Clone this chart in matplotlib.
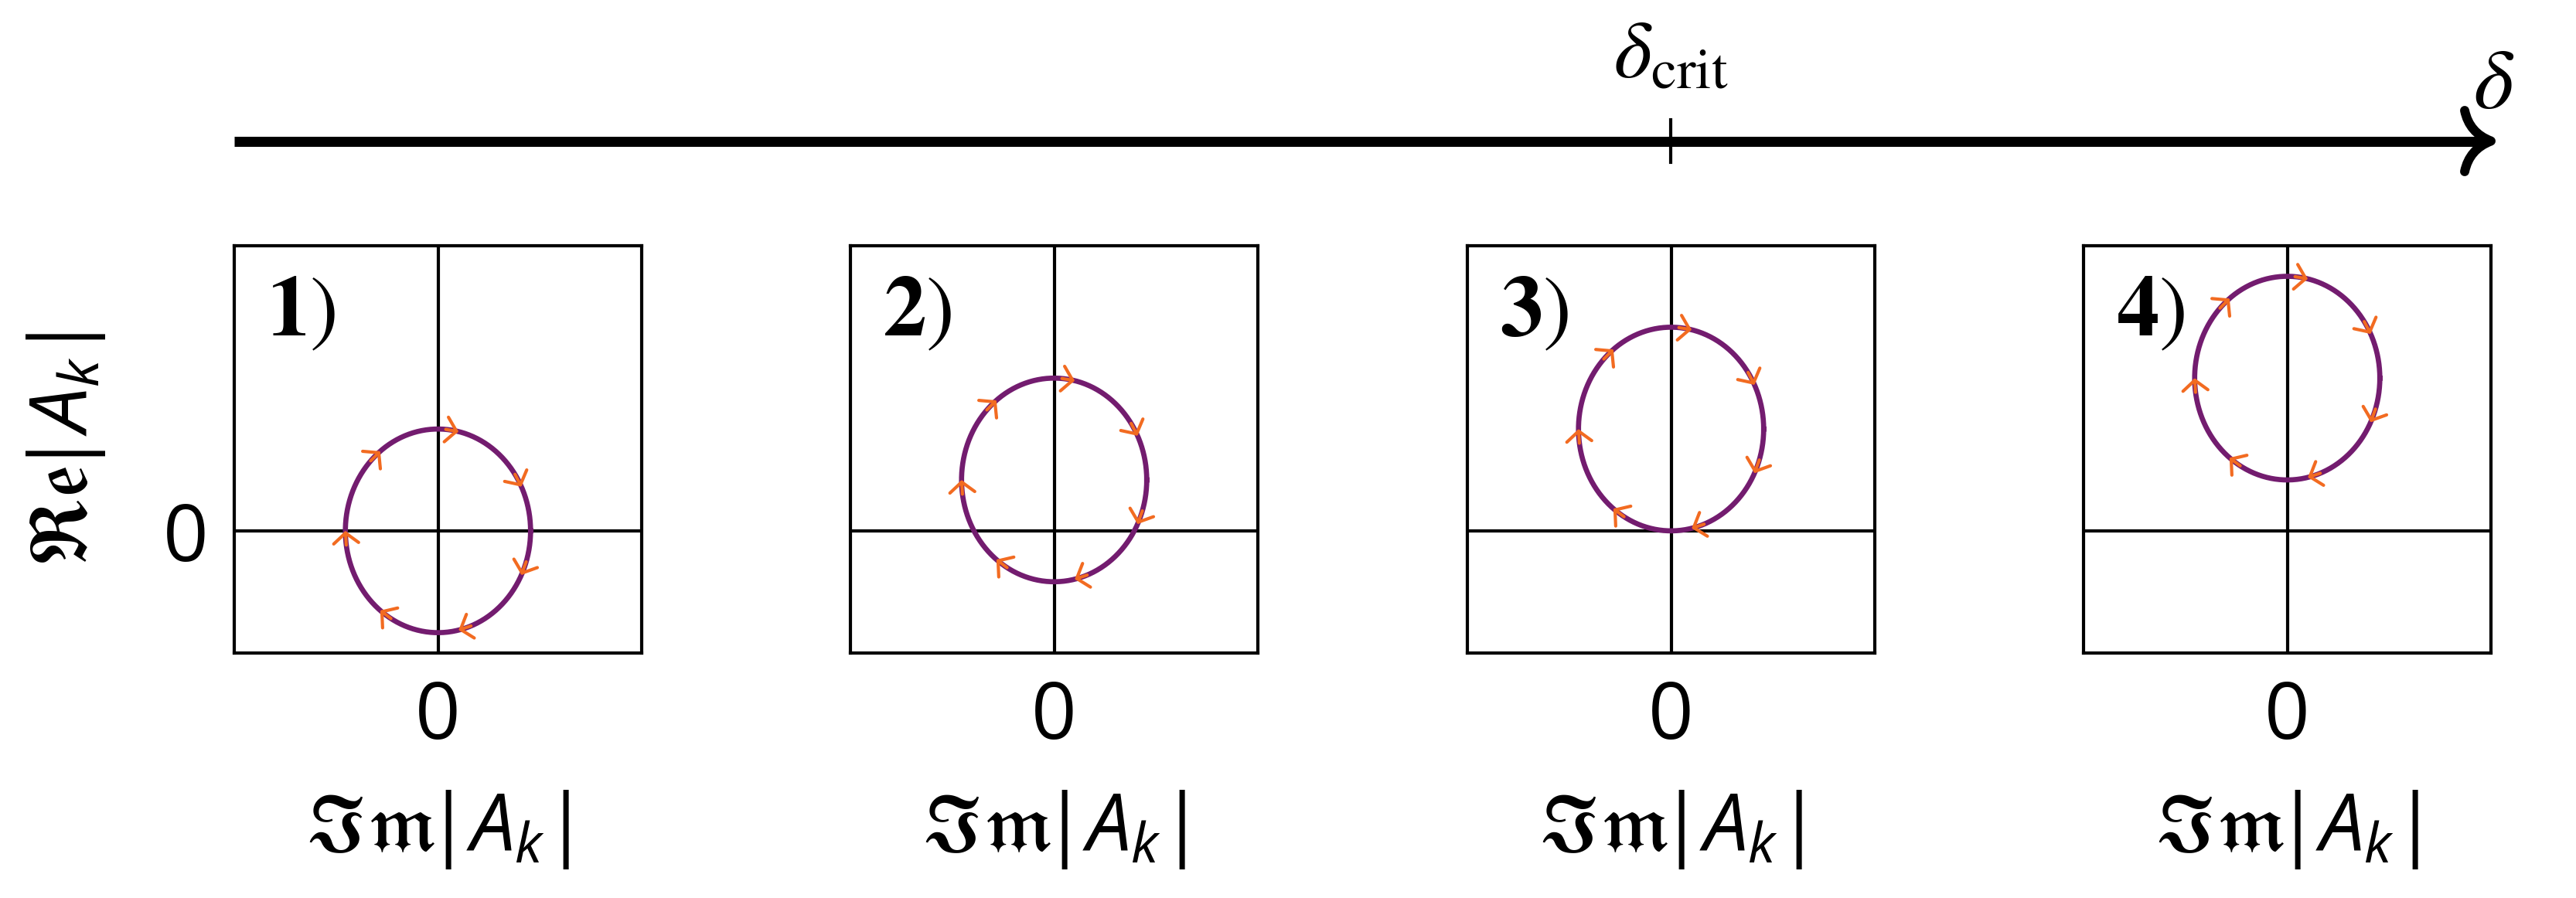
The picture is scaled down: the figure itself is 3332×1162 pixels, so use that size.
import numpy as np
import matplotlib
matplotlib.use('Agg')
import matplotlib.pyplot as plt
from matplotlib.path import Path
from matplotlib.patches import PathPatch

plt.rcParams['font.family'] = ['Open Sans', 'DejaVu Sans']
plt.rcParams['mathtext.fontset'] = 'custom'
plt.rcParams['mathtext.rm'] = 'Open Sans'
plt.rcParams['mathtext.it'] = 'Open Sans:italic'
plt.rcParams['mathtext.fallback'] = 'stix'

# schematic orbit data, one entry per panel
panel_labels = ['1', '2', '3', '4']
re_centers = [0.0, 0.5, 1.0, 1.5]   # shift of the orbit along Re|A_k|
im_centers = [0.0, 0.0, 0.0, 0.0]
orbit_radius_im = 1.0
orbit_radius_re = 1.0
n_arrows = 7
xlim = (-2.2, 2.2)
ylim = (-1.2, 2.8)

purple = '#731c6f'
orange = '#f26b21'

W, H = 3332, 1162
fig = plt.figure(figsize=(W / 200, H / 200), dpi=200)

# overlay for the delta axis on top
ov = fig.add_axes([0, 0, 1, 1])
ov.set_xlim(0, W)
ov.set_ylim(H, 0)
ov.axis('off')
ov.patch.set_alpha(0)

lefts = [303, 1100, 1898, 2695]
size = 527
bottom = 845

# panels
t = np.linspace(0, 2 * np.pi, 400)
for i in range(4):
    ax = fig.add_axes([lefts[i] / W, 1 - bottom / H, size / W, size / H])
    cx, cy = im_centers[i], re_centers[i]
    ax.plot(cx + orbit_radius_im * np.cos(t), cy + orbit_radius_re * np.sin(t),
            color=purple, lw=2.4, zorder=3)
    ax.axhline(0, color='k', lw=1.5, zorder=1)
    ax.axvline(0, color='k', lw=1.5, zorder=1)

    # clockwise direction arrows
    for k in range(n_arrows):
        th = np.pi - k * 2 * np.pi / n_arrows
        th0 = th + 0.14
        ax.annotate('', xy=(cx + orbit_radius_im * np.cos(th), cy + orbit_radius_re * np.sin(th)),
                    xytext=(cx + orbit_radius_im * np.cos(th0), cy + orbit_radius_re * np.sin(th0)),
                    arrowprops=dict(arrowstyle='->,head_length=0.48,head_width=0.58',
                                    color=orange, lw=1.5, shrinkA=0, shrinkB=0,
                                    mutation_scale=10),
                    zorder=4)

    ax.set_xlim(*xlim)
    ax.set_ylim(*ylim)
    ax.set_xticks([0])
    if i == 0:
        ax.set_yticks([0])
        ax.set_ylabel(r'$\mathfrak{Re}\!|A_k|$', fontsize=37, labelpad=26)
    else:
        ax.set_yticks([])
    ax.tick_params(length=0, labelsize=37, pad=12)
    ax.set_xlabel(r'$\mathfrak{Im}\!|A_k|$', fontsize=37, labelpad=14)
    for s in ax.spines.values():
        s.set_linewidth(1.5)
    ax.text(0.08, 0.78, r'$\mathbf{' + panel_labels[i] + '})$', transform=ax.transAxes,
            fontsize=40, math_fontfamily='stix', va='baseline')

# delta axis
x_crit = lefts[2] + size / 2
ov.plot([lefts[0], 3212], [182.5, 182.5], color='k', lw=4.7, solid_capstyle='butt')
head = Path([(3188, 143), (3194, 172), (3222, 182.5), (3194, 193), (3188, 222)],
            [Path.MOVETO, Path.CURVE3, Path.CURVE3, Path.CURVE3, Path.CURVE3])
ov.add_patch(PathPatch(head, fill=False, lw=4.3, capstyle='round', joinstyle='round', color='k'))
ov.plot([x_crit, x_crit], [155, 210], color='k', lw=1.5)
ov.text(x_crit, 100, r'$\delta_{\mathrm{crit}}$', math_fontfamily='stix', fontsize=38,
        ha='center', va='baseline')
ov.text(3226, 140, r'$\delta$', math_fontfamily='stix', fontsize=40, ha='center', va='baseline')

fig.savefig('out.png', dpi=200)
